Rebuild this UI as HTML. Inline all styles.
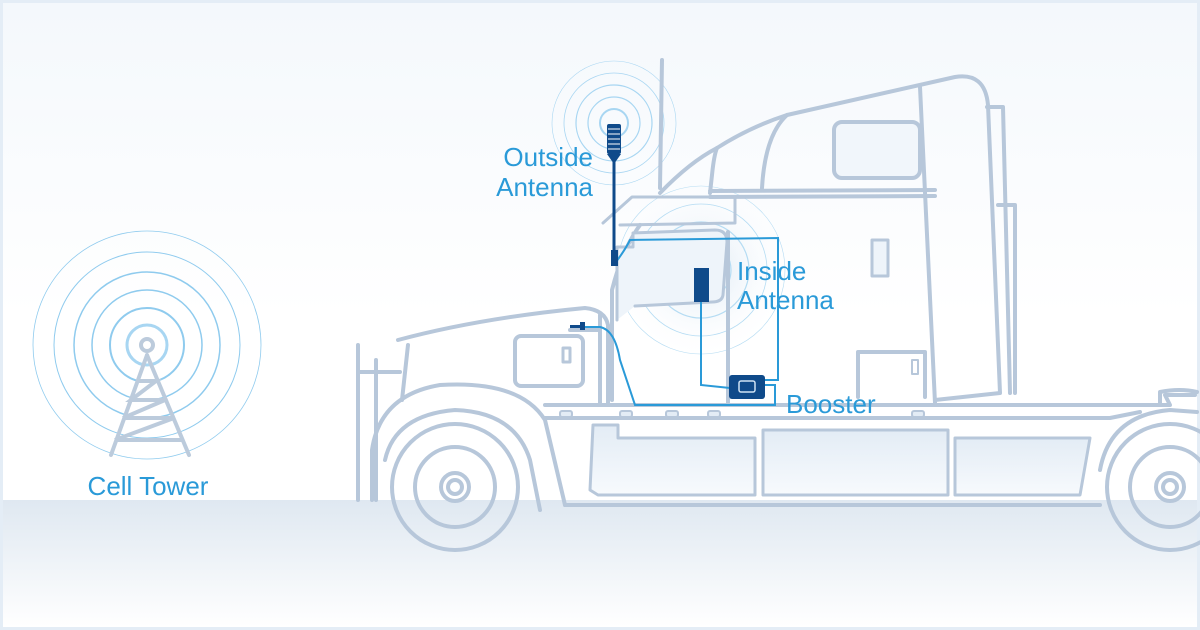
<!DOCTYPE html>
<html><head><meta charset="utf-8"><style>
html,body{margin:0;padding:0;background:#fff}
svg{display:block}
text{font-family:"Liberation Sans",sans-serif;fill:#2a9ad8}
</style></head><body>
<svg width="1200" height="630" viewBox="0 0 1200 630" xmlns="http://www.w3.org/2000/svg">
<defs>
<linearGradient id="sky" x1="0" y1="0" x2="0" y2="1"><stop offset="0" stop-color="#f4f8fc"/><stop offset="0.5" stop-color="#ffffff"/></linearGradient>
<linearGradient id="ground" x1="0" y1="0" x2="0" y2="1"><stop offset="0" stop-color="#dfe8f1"/><stop offset="1" stop-color="#ffffff"/></linearGradient>
<linearGradient id="tank" x1="0" y1="0" x2="0" y2="1"><stop offset="0" stop-color="#e3ecf5"/><stop offset="1" stop-color="#f7fafd"/></linearGradient>
<radialGradient id="glow" cx="0.5" cy="0.5" r="0.5"><stop offset="0" stop-color="#dbe8f4"/><stop offset="1" stop-color="#ffffff" stop-opacity="0"/></radialGradient>
</defs>
<rect width="1200" height="630" fill="#e4edf6"/>
<rect x="3" y="3" width="1194" height="624" fill="url(#sky)"/>
<rect x="3" y="500" width="1194" height="127" fill="url(#ground)"/>

<g fill="none" stroke="#8fcbee" stroke-width="1.5">
<circle cx="147" cy="345" r="20" stroke-width="3" stroke="#a8d6f2"/>
<circle cx="147" cy="345" r="37" stroke-width="2"/>
<circle cx="147" cy="345" r="55"/>
<circle cx="147" cy="345" r="73"/>
<circle cx="147" cy="345" r="93" stroke-width="1"/>
<circle cx="147" cy="345" r="114" stroke-width="0.8"/>
</g>
<g stroke="#bccbdc" stroke-width="4" fill="none" stroke-linecap="round">
<circle cx="147" cy="345" r="6" fill="#fff"/>
<path d="M147 355 L111 455 M147 355 L189 455 M138 381 L156 381 L131 400 L165 400 L123 418 L174 418 L115 440 L182 440"/>
</g>
<text x="148" y="495" font-size="26" text-anchor="middle">Cell Tower</text>

<g fill="none" stroke="#a8d6f2" stroke-width="1.2">
<circle cx="614" cy="123" r="14" stroke-width="2"/><circle cx="614" cy="123" r="26"/><circle cx="614" cy="123" r="38"/><circle cx="614" cy="123" r="50" stroke-width="0.8"/><circle cx="614" cy="123" r="62" stroke-width="0.6"/>
</g>
<circle cx="701" cy="270" r="90" fill="url(#glow)"/>
<g fill="none" stroke="#b5dcf3" stroke-width="1.2">
<circle cx="701" cy="270" r="14" stroke-width="2"/><circle cx="701" cy="270" r="30"/><circle cx="701" cy="270" r="48"/><circle cx="701" cy="270" r="66" stroke-width="0.8"/><circle cx="701" cy="270" r="84" stroke-width="0.6"/>
</g>

<g stroke="#b7c7da" stroke-width="4" fill="none" stroke-linejoin="round" stroke-linecap="round">
<path d="M593 425 L618 425 L618 438 L755 438 L755 495 L598 495 L590 490 Z" fill="url(#tank)" stroke-width="3"/>
<rect x="763" y="430" width="185" height="65" fill="url(#tank)" stroke-width="3"/>
<path d="M955 438 L1090 438 L1080 495 L955 495 Z" fill="url(#tank)" stroke-width="3"/>
<path d="M358 345 L358 500 M376 360 L376 500 M358 372 L400 372"/>
<path d="M398 340 Q480 318 585 308 Q605 310 608 325 L608 405"/>
<path d="M408 345 L402 400"/>
<rect x="515" y="336" width="68" height="50" rx="6"/>
<rect x="563" y="348" width="7" height="14" stroke-width="3"/>
<path d="M372 500 L372 450 Q380 395 440 385 Q520 380 545 420 L565 505"/>
<path d="M385 460 Q395 415 455 410 Q515 412 530 460 L540 510"/>
<circle cx="455" cy="487" r="63"/>
<circle cx="455" cy="487" r="40"/>
<circle cx="455" cy="487" r="14"/>
<circle cx="455" cy="487" r="7"/>
<path d="M545 405 L1170 405 L1165 395 L1195 395"/>
<path d="M545 418 L1110 418 L1140 412"/>
<path d="M565 505 L1100 505"/>
<!-- cab -->
<path d="M612 400 L612 290 Q622 250 640 225"/>
<path d="M660 193 Q690 162 717 148 Q750 127 787 115 L955 77 Q985 72 988 105 L1000 393 L935 400"/>
<path d="M920 87 L935 403"/>
<path d="M603 223 L632 197 L735 197 L735 223 L620 225" stroke-width="3"/>
<path d="M617 320 L617 247 L633 247 L633 233 L715 230 Q727 230 727 242 L723 295 Q722 302 712 302 L635 306" fill="#eef4fa" stroke-width="3"/>
<path d="M728 232 L728 405"/>
<path d="M660 188 L662 60"/>
<path d="M710 193 L712 175 Q714 155 717 148 M710 191 L935 190 M710 197 L935 196 M762 188 Q765 135 787 115"/>
<rect x="834" y="122" width="86" height="56" rx="8" fill="#f1f6fb"/>
<rect x="872" y="240" width="16" height="36" stroke-width="3" fill="#eef4fa"/>
<path d="M987 107 L1003 107 L1010 393 M998 205 L1015 205 L1015 393"/>
<path d="M858 397 L858 352 L925 352 L925 397"/>
<rect x="912" y="360" width="6" height="14" stroke-width="2"/>
<path d="M600 315 L600 405 M600 330 L570 330"/>
<path d="M1160 405 L1160 392 Q1180 388 1197 392"/>
<path d="M1100 470 Q1110 415 1170 410 L1197 412"/>
<circle cx="1170" cy="487" r="63"/>
<circle cx="1170" cy="487" r="40"/>
<circle cx="1170" cy="487" r="14"/>
<circle cx="1170" cy="487" r="7"/>
</g>
<g fill="#e3ecf5" stroke="#b7c7da" stroke-width="2">
<rect x="560" y="411" width="12" height="6" rx="2"/><rect x="620" y="411" width="12" height="6" rx="2"/><rect x="666" y="411" width="12" height="6" rx="2"/><rect x="708" y="411" width="12" height="6" rx="2"/><rect x="912" y="411" width="12" height="6" rx="2"/>
</g>

<g fill="none" stroke="#2a9ad8" stroke-width="2">
<path d="M616 262 Q625 250 630 240 L778 238 L778 380 L762 380"/>
<path d="M701 300 L701 385 L730 388"/>
<path d="M583 327 L600 327 Q615 330 620 360 L635 405 L775 405 L775 385 L765 385"/>
</g>
<line x1="614" y1="160" x2="614" y2="260" stroke="#0f4a8a" stroke-width="3"/>
<rect x="611" y="250" width="7" height="16" fill="#0f4a8a"/>
<g fill="#0f4a8a">
<rect x="607" y="124" width="14" height="30" rx="2"/>
<path d="M607 154 L621 154 L614 164 Z"/>
<rect x="694" y="268" width="15" height="34"/>
<rect x="729" y="375" width="36" height="24" rx="3"/>
<rect x="570" y="325" width="12" height="3"/>
<rect x="580" y="322" width="5" height="8"/>
</g>
<g stroke="#fff" stroke-width="1">
<line x1="608" y1="129" x2="620" y2="129"/><line x1="608" y1="134" x2="620" y2="134"/><line x1="608" y1="139" x2="620" y2="139"/><line x1="608" y1="144" x2="620" y2="144"/><line x1="608" y1="149" x2="620" y2="149"/>
</g>
<rect x="739" y="381" width="16" height="11" rx="2" fill="none" stroke="#cfe3f5" stroke-width="1.5"/>

<text x="593" y="166" font-size="26" text-anchor="end">Outside</text>
<text x="593" y="196" font-size="26" text-anchor="end">Antenna</text>
<text x="737" y="280" font-size="26">Inside</text>
<text x="737" y="309" font-size="26">Antenna</text>
<text x="786" y="413" font-size="26">Booster</text>
</svg>
</body></html>
